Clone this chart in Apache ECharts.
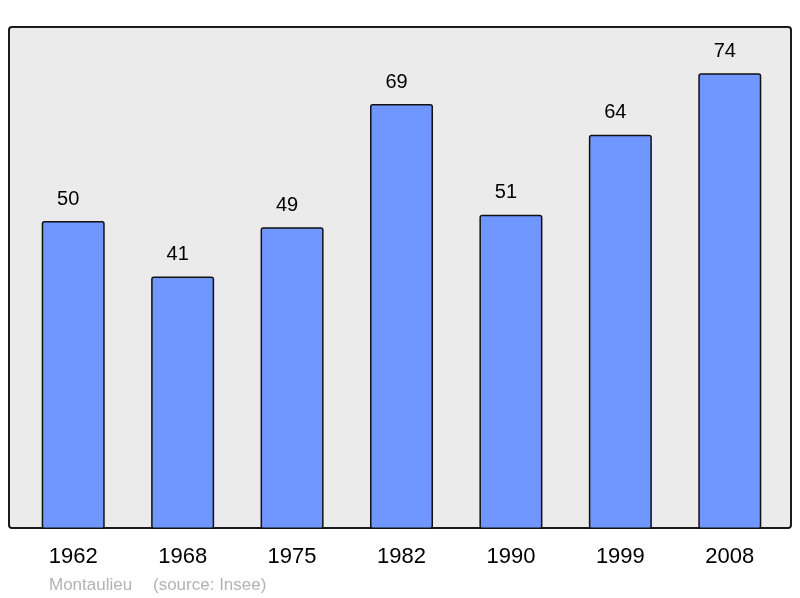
<!DOCTYPE html>
<html><head><meta charset="utf-8">
<script src="https://cdn.jsdelivr.net/npm/echarts@6/dist/echarts.min.js"></script>
<style>html,body{margin:0;padding:0;background:#fff}#c{width:800px;height:598px}</style>
</head><body><div id="c"></div>
<script>
const years = ['1962','1968','1975','1982','1990','1999','2008'];
const population = [50, 41, 49, 69, 51, 64, 74];
const commune = 'Montaulieu';
const source = '(source: Insee)';

const chart = echarts.init(document.getElementById('c'), null, {renderer:'canvas'});
chart.setOption({
  animation: false,
  backgroundColor: '#ffffff',
  grid: {left: 18.5, right: 15.5, top: 27, bottom: 69},
  graphic: [
    {type:'rect', z: -10, shape:{x:9, y:27, width:782, height:501, r:3},
     style:{fill:'#ebebeb', stroke:'#1a1a1a', lineWidth:2}},
    {type:'text', left:49, top:577, style:{text:commune, fill:'#b3b3b3', font:'17px "Liberation Sans", Arial, sans-serif'}},
    {type:'text', left:153, top:577, style:{text:source, fill:'#b3b3b3', font:'17px "Liberation Sans", Arial, sans-serif'}}
  ],
  xAxis: {
    type:'category', data: years,
    axisLine:{show:false}, axisTick:{show:false},
    axisLabel:{color:'#000', fontSize:22, fontFamily:'"Liberation Sans", Arial, sans-serif', margin:17}
  },
  yAxis: {type:'value', min:0, max:81.5, show:false, splitLine:{show:false}},
  series: [{
    type:'bar', data: population, barWidth: 63,
    itemStyle:{color:'#7096ff', borderColor:'#111', borderWidth:1.5, borderRadius:2},
    label:{show:true, position:'top', distance:12, offset:[-5,0], color:'#000', fontSize:20, fontFamily:'"Liberation Sans", Arial, sans-serif'}
  }]
});
</script></body></html>
